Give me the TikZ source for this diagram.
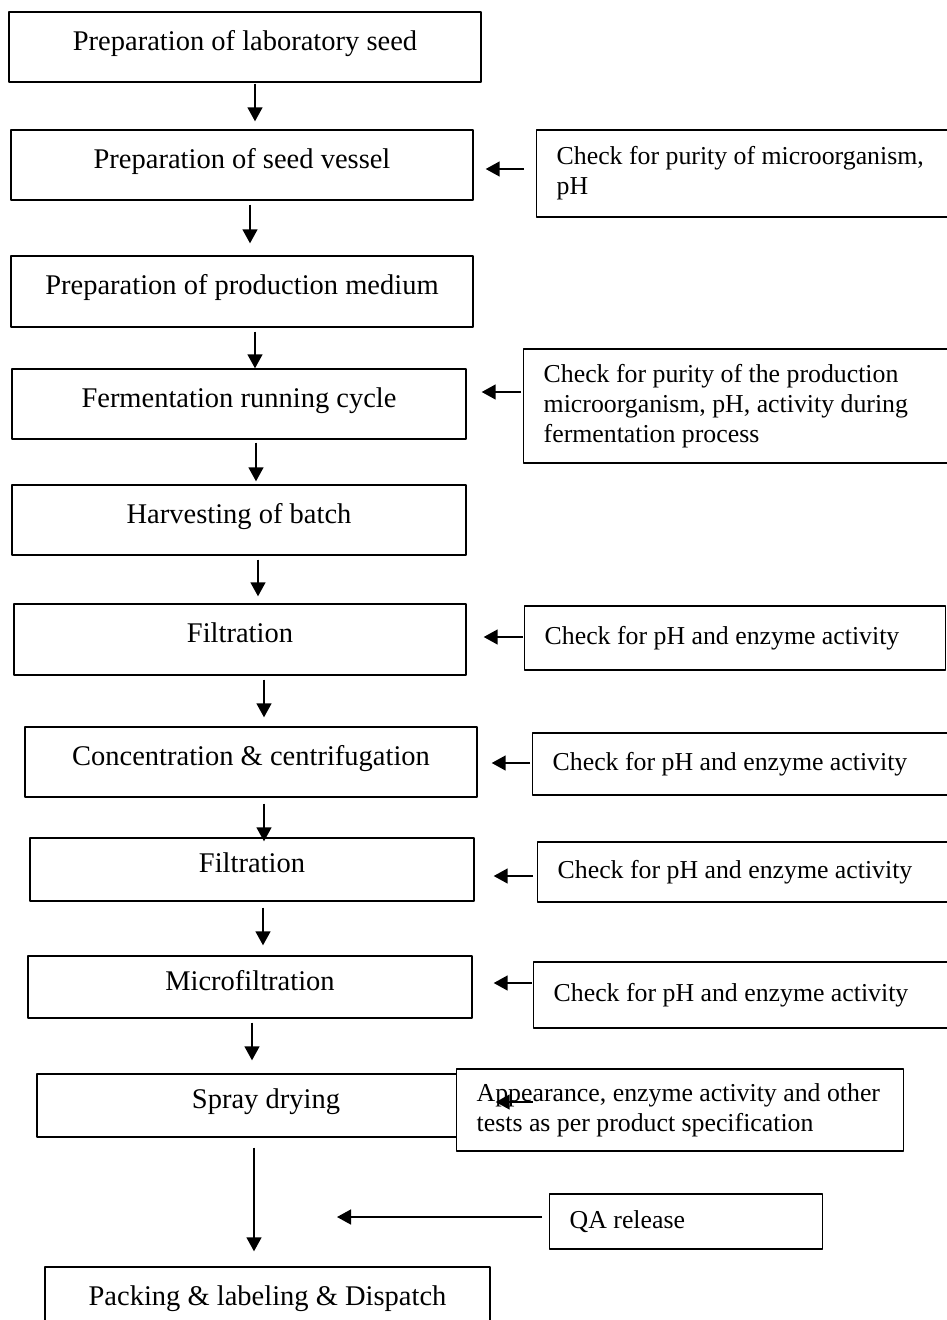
\documentclass[tikz,border=0pt]{standalone}
\usepackage{fontspec}
\setmainfont{Liberation Serif}
\usetikzlibrary{arrows.meta}

\begin{document}
\begin{tikzpicture}[x=0.5pt,y=-0.5pt,line join=round,>={Triangle[length=7pt,width=7.5pt]}]
	\tikzset{stepnode/.style={draw,line width=0.7pt,inner sep=0pt,font=\fontsize{14.25}{17}\selectfont,text height=0.68em,text depth=0.36em},
		checknode/.style={draw,fill=white,line width=0.7pt,anchor=west,inner xsep=10pt,inner ysep=0pt,align=flush left,font=\fontsize{12.9}{15}\selectfont},
		flow/.style={->,line width=0.75pt}}
	\useasboundingbox (0,0) rectangle (946,1320);
	% process steps, corners in px
	\foreach \n/\xa/\ya/\xb/\yb/\txt in {1/9/12/481/82/Preparation of laboratory seed,
		2/11/130/473/200/Preparation of seed vessel,
		3/11/256/473/327/Preparation of production medium,
		4/12/369/466/439/Fermentation running cycle,
		5/12/485/466/555/Harvesting of batch,
		6/14/604/466/675/Filtration,
		7/25/727/477/797/Concentration \& centrifugation,
		8/30/838/474/901/Filtration,
		9/28/956/472/1018/Microfiltration,
		10/37/1074/495/1137/Spray drying,
		11/45/1267/490/1337/Packing \& labeling \& Dispatch}
	\node[stepnode,minimum width={(\xb-\xa)*0.5pt},minimum height={(\yb-\ya)*0.5pt}] (s\n) at ({(\xa+\xb)/2},{(\ya+\yb)/2}) {\txt};
	% checks
	\node[checknode,text width=187pt,minimum height=43.5pt] (c1) at (536,173.5) {Check for purity of microorganism,\\pH};
	\node[checknode,text width=193.5pt,minimum height=57pt] (c2) at (523,406) {Check for purity of the production\\microorganism, pH, activity during\\fermentation process};
	\node[checknode,text width=190.5pt,minimum height=32pt] (c3) at (524,638) {Check for pH and enzyme activity};
	\node[checknode,text width=189pt,minimum height=31pt] (c4) at (532,764) {Check for pH and enzyme activity};
	\node[checknode,text width=186.5pt,minimum height=30pt] (c5) at (537,872) {Check for pH and enzyme activity};
	\node[checknode,text width=188.5pt,minimum height=33pt] (c6) at (533,995) {Check for pH and enzyme activity};
	\node[checknode,text width=203.5pt,minimum height=41pt] (c7) at (456,1110) {Appearance, enzyme activity and other\\tests as per product specification};
	\node[checknode,text width=116.5pt,minimum height=27.5pt] (qa) at (549,1221.5) {QA release};
	\coordinate (sprayarr) at (533,1102);
	\coordinate (qaend) at (337,1217);
	% down arrows
	\foreach \a/\b/\x/\p/\q in {1/2/255/0.5/4,2/3/250/2/6,3/4/255/2/0,4/5/256/1.5/1.5,5/6/258/2/3.5,
		6/7/264/2/4.5,7/8/264/3/-2,8/9/263/3/5,9/10/252/2/6.5,10/11/254/5/7.5}
	\draw[flow,shorten <=\p pt,shorten >=\q pt] (s\a.south -| \x,0) -- (s\b.north -| \x,0);
	% side arrows
	\foreach \c/\s/\y/\p/\q in {c1/s2/169/6/6,c2/s4/392/1/7.5,c3/s6/637/0.5/8.5,c4/s7/763/1/7,c5/s8/876/2/9.5,c6/s9/983/0.5/10.5}
	\draw[flow,shorten <=\p pt,shorten >=\q pt] (\c.west |- 0,\y) -- (\s.east |- 0,\y);
	\draw[flow] (sprayarr) -- (s10.east |- sprayarr);
	\draw[flow,shorten <=3.5pt] (qa.west |- qaend) -- (qaend);
\end{tikzpicture}
\end{document}
